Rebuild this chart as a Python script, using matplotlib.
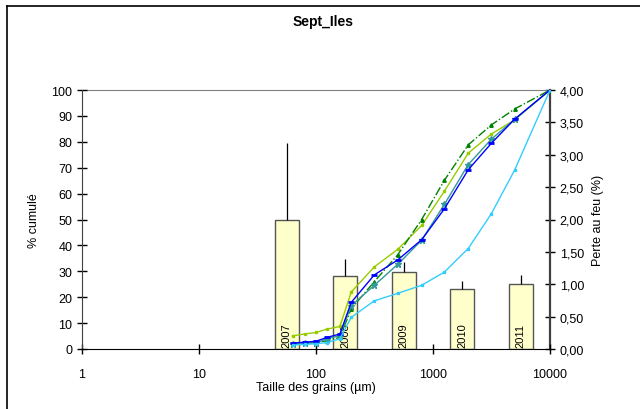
import matplotlib
matplotlib.use("Agg")
import matplotlib.pyplot as plt
from matplotlib.lines import Line2D

plt.rcParams['font.family'] = ['Liberation Sans', 'DejaVu Sans']

# Sieve sizes (µm) and cumulative passing (%)
sizes = [63, 80, 100, 125, 160, 200, 315, 500, 800, 1250, 2000, 3150, 5000, 10000]
cum_a = [5.1, 5.8, 6.4, 7.7, 8.7, 22.0, 31.7, 38.5, 47.7, 60.9, 75.6, 83.0, 88.5, 100]
cum_b = [1.9, 2.2, 2.6, 3.2, 4.5, 15.5, 26.0, 36.4, 50.0, 65.1, 78.8, 86.5, 92.7, 100]
cum_c = [1.9, 2.3, 2.3, 4.0, 5.1, 16.7, 24.6, 32.7, 42.0, 55.8, 71.2, 81.0, 88.7, 100]
cum_d = [2.3, 2.6, 3.0, 4.5, 5.8, 18.0, 28.6, 34.4, 42.2, 54.1, 69.2, 79.4, 88.8, 100]
cum_e = [1.5, 1.8, 2.0, 2.5, 4.0, 12.2, 18.6, 21.5, 24.6, 29.7, 38.8, 52.2, 69.2, 100]

# Loss on ignition (%) per year, with upper error
years = ['2007', '2008', '2009', '2010', '2011']
loi = [2.00, 1.13, 1.19, 0.92, 1.01]
loi_err = [1.18, 0.26, 0.16, 0.13, 0.14]

fig = plt.figure(figsize=(6.4, 4.1), dpi=100)
pos = [82 / 640, 1 - 350 / 410, (550 - 82) / 640, (350 - 91) / 410]

# Bars on the secondary scale
axb = fig.add_axes(pos)
idx = list(range(len(years)))
axb.bar(idx, loi, width=0.41, color='#FFFFCC', edgecolor='#555555', linewidth=1.0, zorder=2)
axb.errorbar(idx, loi, yerr=[[0] * len(loi), loi_err], fmt='none', ecolor='black',
             elinewidth=0.9, capsize=0, zorder=3)
for i, y in zip(idx, years):
    axb.text(i, 0.03, y, rotation=90, ha='center', va='bottom', fontsize=8, zorder=4)
axb.set_xlim(-3.5, 4.5)
axb.set_ylim(0, 4)
axb.set_xticks([])
axb.yaxis.tick_right()
axb.yaxis.set_label_position('right')
axb.set_yticks([0, 0.5, 1, 1.5, 2, 2.5, 3, 3.5, 4])
axb.set_yticklabels([f"{v:.2f}".replace('.', ',') for v in [0, 0.5, 1, 1.5, 2, 2.5, 3, 3.5, 4]])
axb.tick_params(axis='y', direction='inout', length=7, width=1, labelsize=9, colors='black')
axb.set_ylabel('Perte au feu (%)', fontsize=9, labelpad=6)
for s in ['left', 'bottom']:
    axb.spines[s].set_visible(False)
axb.spines['top'].set_color('#808080')
axb.spines['right'].set_color('#404040')
axb.spines['right'].set_linewidth(1.6)

# Cumulative curves on log axis
ax = fig.add_axes(pos)
ax.patch.set_visible(False)
ax.plot(sizes, cum_a, color='#99CC00', lw=1.0, marker='s', ms=2)
ax.plot(sizes, cum_b, color='#008000', lw=1.0, ls='-.', marker='^', ms=2.5)
ax.plot(sizes, cum_c, color='#339999', lw=1.0, marker='*', ms=4.5)
ax.plot(sizes, cum_d, color='#0000FF', lw=1.0, marker='_', ms=5, mew=2)
ax.plot(sizes, cum_e, color='#33CCFF', lw=1.0, marker='s', ms=2)
ax.set_xscale('log')
ax.set_xlim(1, 10000)
ax.set_ylim(0, 100)
ax.set_xticks([1, 10, 100, 1000, 10000])
ax.set_xticklabels(['1', '10', '100', '1000', '10000'])
ax.minorticks_off()
ax.set_yticks(range(0, 101, 10))
ax.tick_params(axis='both', direction='inout', length=7, width=1, labelsize=9)
ax.tick_params(axis='x', pad=10)
ax.set_xlabel('Taille des grains (µm)', fontsize=9, labelpad=1)
ax.set_ylabel('% cumulé', fontsize=9, labelpad=8)
ax.spines['top'].set_visible(False)
ax.spines['right'].set_visible(False)
ax.spines['left'].set_color('#404040')
ax.spines['bottom'].set_color('black')

fig.text(0.505, 1 - 22 / 410, 'Sept_Iles', ha='center', va='center', fontsize=10, fontweight='bold')

# Outer frame edges
fig.add_artist(Line2D([7 / 640, 1], [1 - 7 / 410, 1 - 7 / 410], color='black', lw=1.2,
                      transform=fig.transFigure))
fig.add_artist(Line2D([7 / 640, 7 / 640], [0, 1 - 7 / 410], color='black', lw=1.2,
                      transform=fig.transFigure))

fig.savefig('out.png', dpi=100)
